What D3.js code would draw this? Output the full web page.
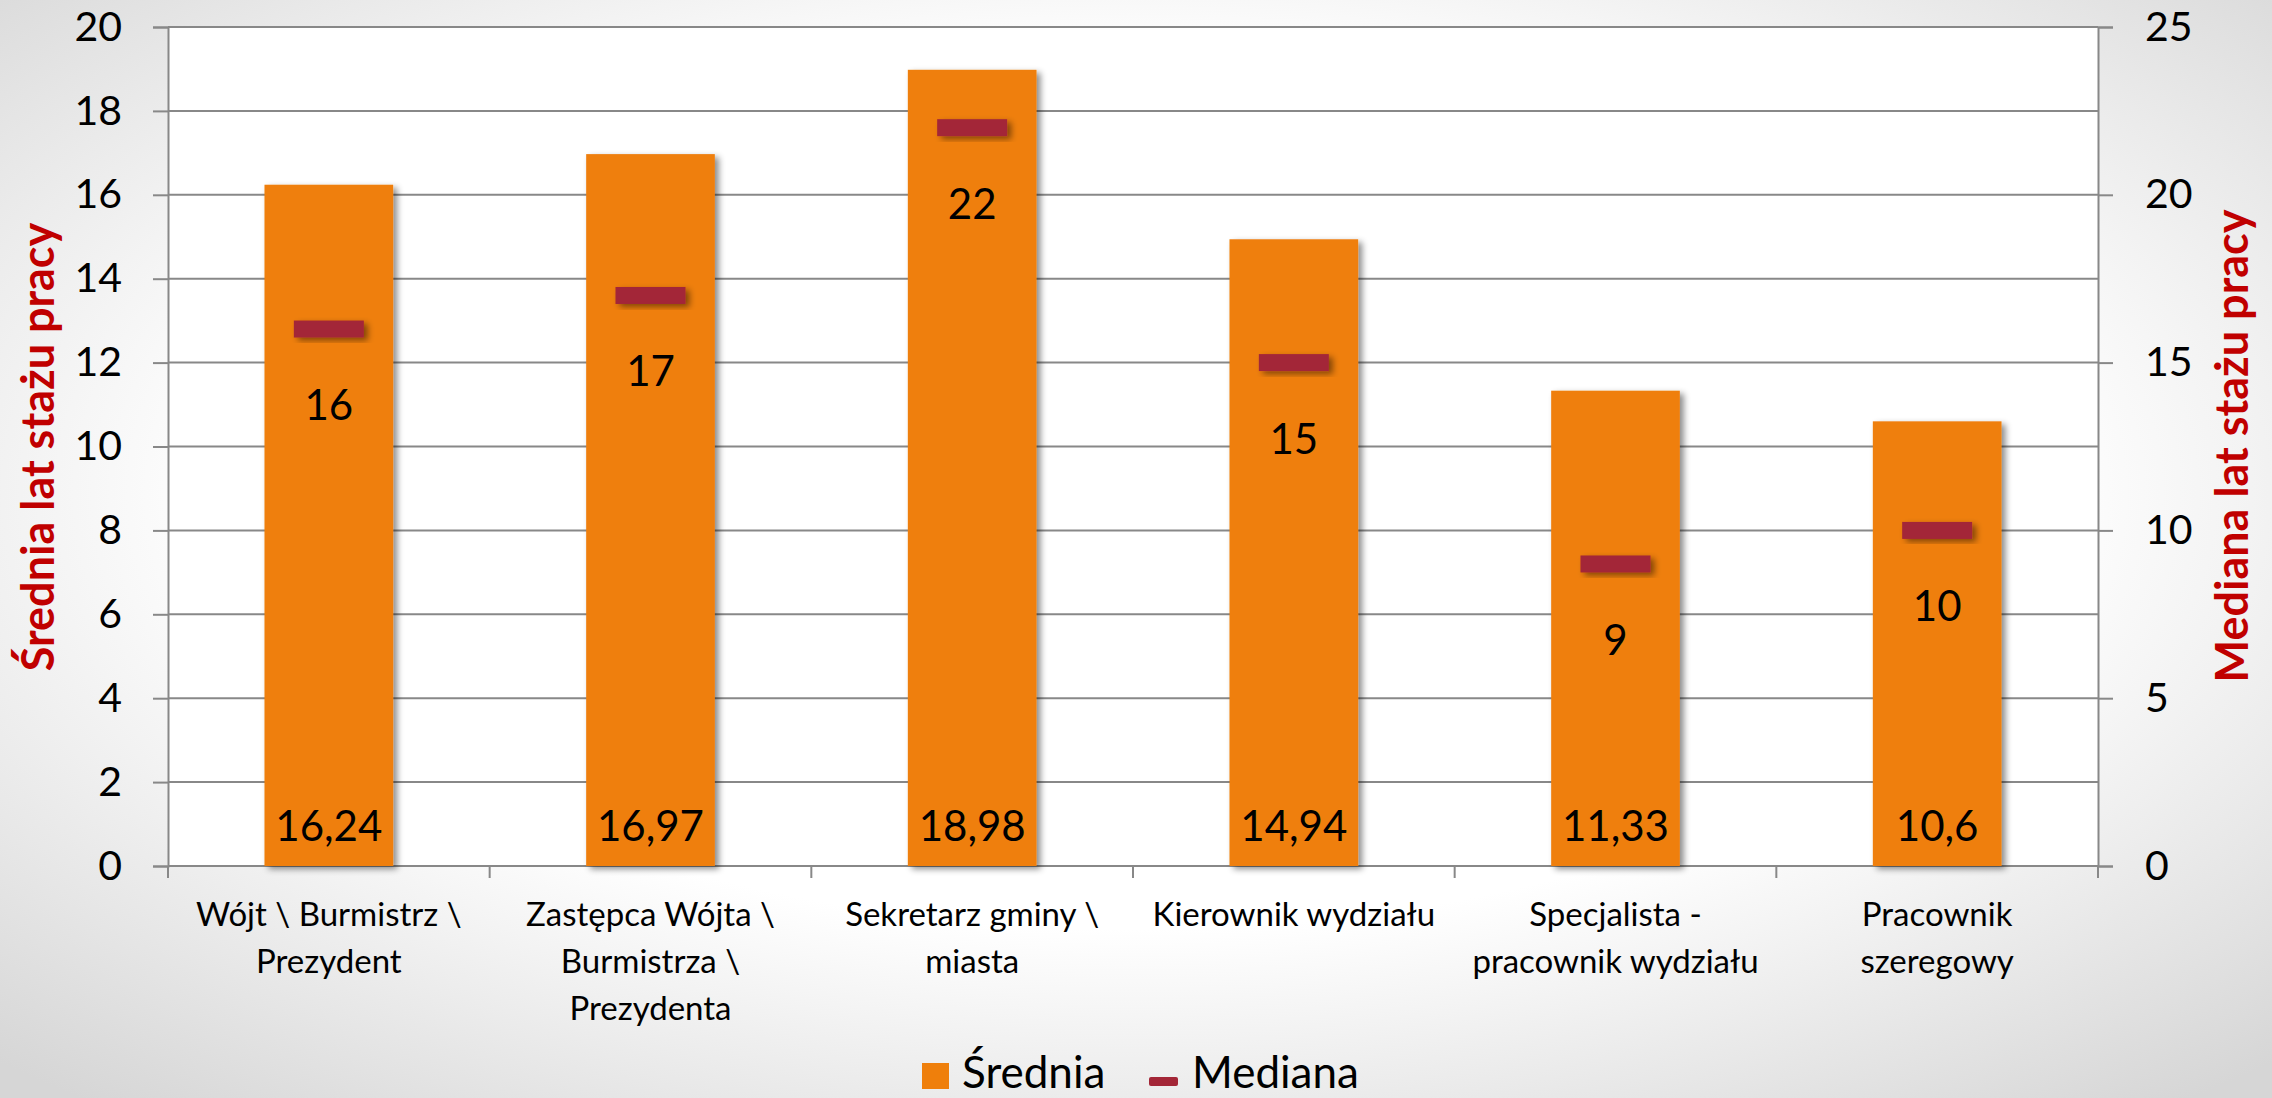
<!DOCTYPE html>
<html>
<head>
<meta charset="utf-8">
<script src="https://cdn.jsdelivr.net/npm/d3@7"></script>
<style>
  html, body { margin: 0; padding: 0; background: #fff; }
  svg { display: block; font-family: Lato, "Open Sans", sans-serif; }
</style>
</head>
<body>
<div id="chart"></div>
<script>
var svg_width = 2272;
var svg_height = 1098;
var margin = ({top: 27, right: 174, bottom: 232, left: 168});

// dane
var categories = ["Wójt \\ Burmistrz \\ Prezydent", "Zastępca Wójta \\ Burmistrza \\ Prezydenta", "Sekretarz gminy \\ miasta",
                  "Kierownik wydziału", "Specjalista - pracownik wydziału", "Pracownik szeregowy"];
var category_lines = [["Wójt \\ Burmistrz \\", "Prezydent"],
                      ["Zastępca Wójta \\", "Burmistrza \\", "Prezydenta"],
                      ["Sekretarz gminy \\", "miasta"],
                      ["Kierownik wydziału"],
                      ["Specjalista -", "pracownik wydziału"],
                      ["Pracownik", "szeregowy"]];
var srednia = [16.24, 16.97, 18.98, 14.94, 11.33, 10.6];
var mediana = [16, 17, 22, 15, 9, 10];
var left_ticks = [0, 2, 4, 6, 8, 10, 12, 14, 16, 18, 20];
var right_ticks = [0, 5, 10, 15, 20, 25];
var series_names = ["Średnia", "Mediana"];

var BAR_COLOR = "#ef7f0b";
var MED_COLOR = "#a32637";
var GRID = "#888888";
var TITLE_COLOR = "#c00000";

const svg = d3.select("#chart")
    .append("svg")
    .attr("width", svg_width)
    .attr("height", svg_height)
    .attr("viewBox", [0, 0, svg_width, svg_height]);

var defs = svg.append("defs");
var bg = defs.append("radialGradient")
    .attr("id", "bg").attr("cx", "50%").attr("cy", "45%").attr("r", "72%");
bg.append("stop").attr("offset", "55%").attr("stop-color", "#ffffff");
bg.append("stop").attr("offset", "100%").attr("stop-color", "#d6d6d6");

var sh = defs.append("filter").attr("id", "shadow")
    .attr("x", "-20%").attr("y", "-20%").attr("width", "150%").attr("height", "150%");
sh.append("feDropShadow").attr("dx", 4).attr("dy", 3).attr("stdDeviation", 3)
    .attr("flood-color", "#000").attr("flood-opacity", 0.45);

svg.append("rect").attr("width", svg_width).attr("height", svg_height).attr("fill", "url(#bg)");

var x = d3.scaleBand() // kategorie, bez odstępów (etykiety i podziałki)
    .domain(categories)
    .range([margin.left, svg_width - margin.right])
    .padding(0);

var xBar = d3.scaleBand() // słupki
    .domain(categories)
    .range([margin.left, svg_width - margin.right])
    .paddingInner(0.6)
    .paddingOuter(0.3);

var yL = d3.scaleLinear().domain([0, 20]).range([svg_height - margin.bottom, margin.top]);
var yR = d3.scaleLinear().domain([0, 25]).range([svg_height - margin.bottom, margin.top]);

// plot area
svg.append("rect")
    .attr("x", margin.left).attr("y", margin.top)
    .attr("width", svg_width - margin.left - margin.right)
    .attr("height", svg_height - margin.top - margin.bottom)
    .attr("fill", "#fff");

// grid
svg.append("g")
    .selectAll("line")
    .data(left_ticks)
    .join("line")
      .attr("x1", margin.left).attr("x2", svg_width - margin.right)
      .attr("y1", d => yL(d)).attr("y2", d => yL(d))
      .attr("stroke", GRID).attr("stroke-width", 2);

var yAxisL = g => g
    .attr("transform", `translate(${margin.left},0)`)
    .call(d3.axisLeft(yL).tickValues(left_ticks).tickSize(15).tickPadding(31).tickFormat(d3.format("d")))
    .call(g => g.select(".domain").attr("stroke", GRID).attr("stroke-width", 2))
    .call(g => g.selectAll(".tick line").attr("stroke", GRID).attr("stroke-width", 2))
    .call(g => g.selectAll(".tick text").attr("font-size", "41px").attr("font-family", "Lato").attr("fill", "#000"));

var yAxisR = g => g
    .attr("transform", `translate(${svg_width - margin.right},0)`)
    .call(d3.axisRight(yR).tickValues(right_ticks).tickSize(15).tickPadding(32).tickFormat(d3.format("d")))
    .call(g => g.select(".domain").attr("stroke", GRID).attr("stroke-width", 2))
    .call(g => g.selectAll(".tick line").attr("stroke", GRID).attr("stroke-width", 2))
    .call(g => g.selectAll(".tick text").attr("font-size", "41px").attr("font-family", "Lato").attr("fill", "#000"));

svg.append("g").call(yAxisL);
svg.append("g").call(yAxisR);

// x ticks on category boundaries
var bounds = categories.map(d => x(d)).concat([x.range()[1]]);
svg.append("g")
    .selectAll("line")
    .data(bounds)
    .join("line")
      .attr("x1", d => d).attr("x2", d => d)
      .attr("y1", yL(0)).attr("y2", yL(0) + 12)
      .attr("stroke", GRID).attr("stroke-width", 2);

// bars
svg.append("g")
    .selectAll("rect")
    .data(srednia)
    .join("rect")
      .attr("x", (d, i) => xBar(categories[i]))
      .attr("y", d => yL(d))
      .attr("width", xBar.bandwidth())
      .attr("height", d => yL(0) - yL(d))
      .attr("fill", BAR_COLOR)
      .attr("filter", "url(#shadow)");

// bar values
svg.append("g")
    .selectAll("text")
    .data(srednia)
    .join("text")
      .attr("x", (d, i) => x(categories[i]) + x.bandwidth() / 2)
      .attr("y", yL(0) - 25)
      .attr("text-anchor", "middle")
      .attr("font-size", "42px")
      .text(d => String(d).replace(".", ","));

// median markers
var MW = 70, MH = 17;
svg.append("g")
    .selectAll("rect")
    .data(mediana)
    .join("rect")
      .attr("x", (d, i) => x(categories[i]) + x.bandwidth() / 2 - MW / 2)
      .attr("y", d => yR(d) - MH / 2)
      .attr("width", MW)
      .attr("height", MH)
      .attr("fill", MED_COLOR)
      .attr("filter", "url(#shadow)");

svg.append("g")
    .selectAll("text")
    .data(mediana)
    .join("text")
      .attr("x", (d, i) => x(categories[i]) + x.bandwidth() / 2)
      .attr("y", d => yR(d) + 91)
      .attr("text-anchor", "middle")
      .attr("font-size", "42px")
      .text(d => d);

// category labels
var cat = svg.append("g")
    .selectAll("text")
    .data(category_lines)
    .join("text")
      .attr("x", (d, i) => x(categories[i]) + x.bandwidth() / 2)
      .attr("y", 926)
      .attr("text-anchor", "middle")
      .attr("font-size", "33px");
cat.selectAll("tspan")
    .data(d => d)
    .join("tspan")
      .attr("x", function () { return d3.select(this.parentNode).attr("x"); })
      .attr("dy", (d, i) => i ? 47 : 0)
      .text(d => d);

// axis titles
svg.append("text")
    .attr("transform", "translate(54,447) rotate(-90)")
    .attr("text-anchor", "middle")
    .attr("font-size", "45px")
    .attr("font-weight", "bold")
    .attr("fill", TITLE_COLOR)
    .text("Średnia lat stażu pracy");

svg.append("text")
    .attr("transform", "translate(2248,446) rotate(-90)")
    .attr("text-anchor", "middle")
    .attr("font-size", "45px")
    .attr("font-weight", "bold")
    .attr("fill", TITLE_COLOR)
    .text("Mediana lat stażu pracy");

// legend
var legend = svg.append("g");
legend.append("rect")
    .attr("x", 922).attr("y", 1063).attr("width", 27).attr("height", 26)
    .attr("fill", BAR_COLOR);
legend.append("text")
    .attr("x", 962).attr("y", 1088).attr("font-size", "44px")
    .text(series_names[0]);
legend.append("rect")
    .attr("x", 1149).attr("y", 1077).attr("width", 29).attr("height", 9).attr("rx", 2)
    .attr("fill", MED_COLOR);
legend.append("text")
    .attr("x", 1192).attr("y", 1088).attr("font-size", "44px")
    .text(series_names[1]);
</script>
</body>
</html>
